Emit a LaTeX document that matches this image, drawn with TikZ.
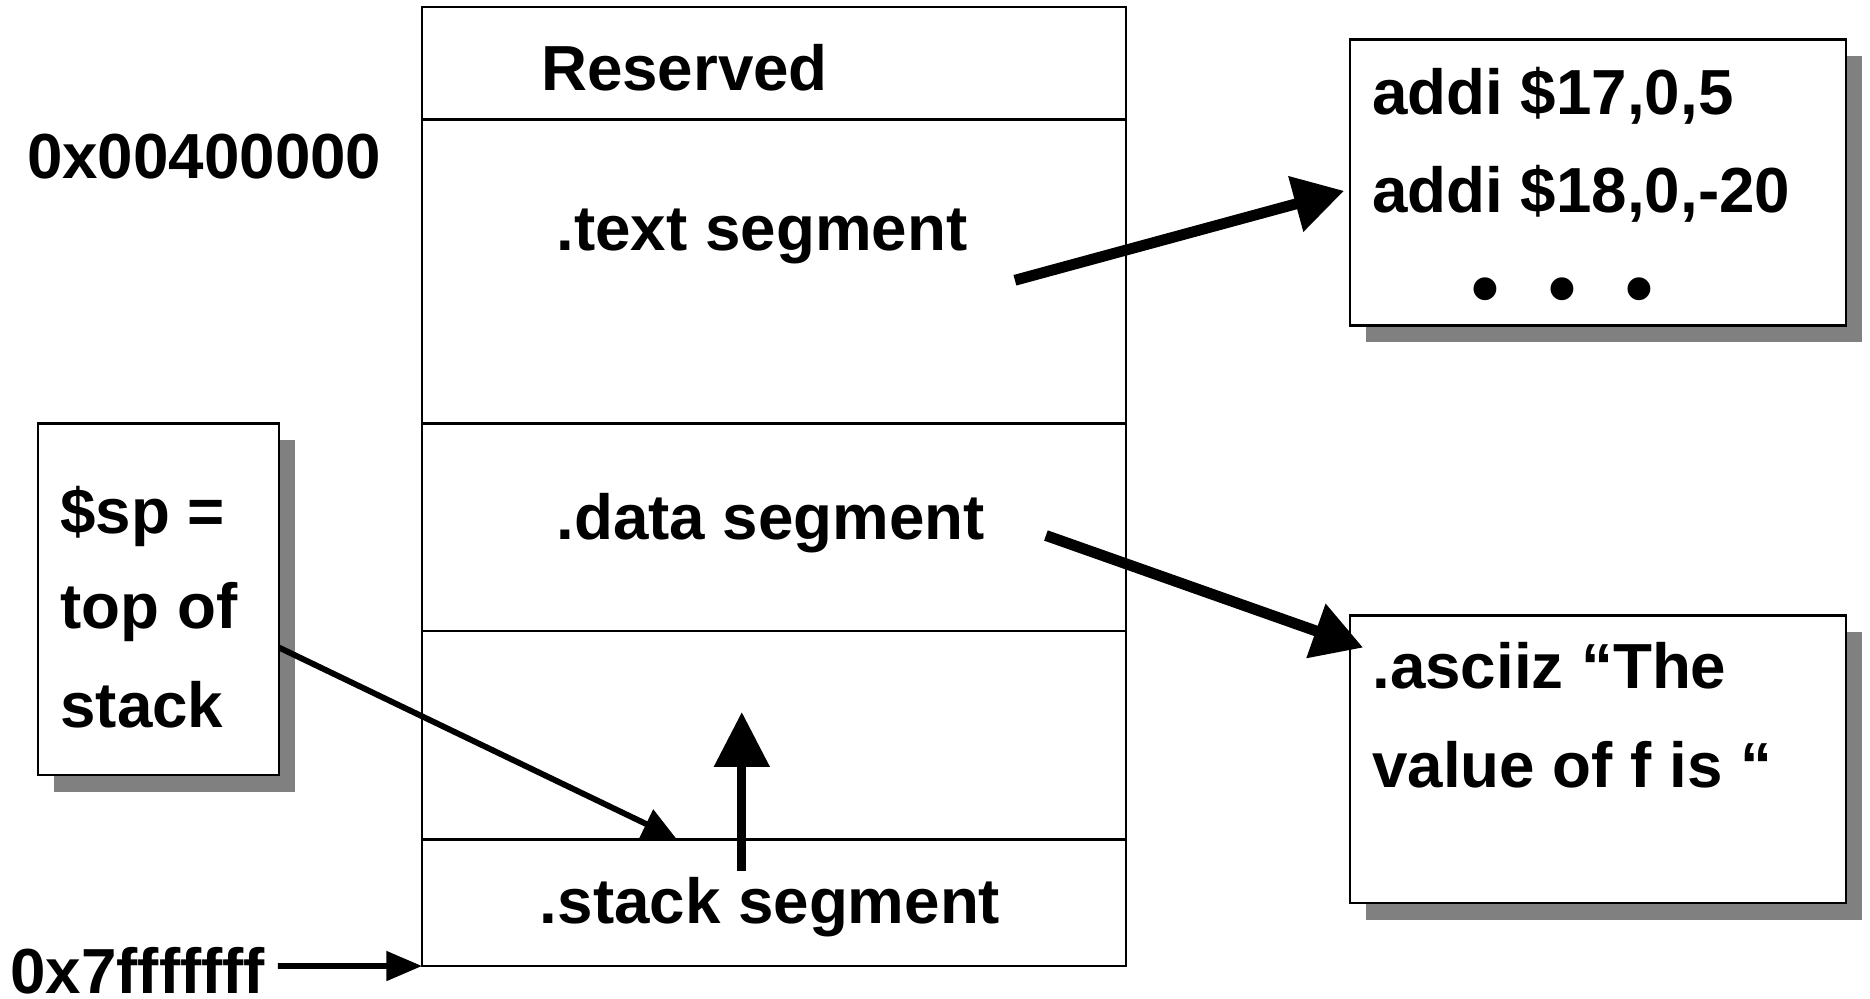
\documentclass[tikz,border=0pt]{standalone}
\usepackage{fontspec}
\setmainfont{Liberation Sans}
\usetikzlibrary{arrows.meta,shadows}
\definecolor{shadowgray}{HTML}{808080}
\begin{document}
\begin{tikzpicture}[x=1cm,y=1cm,
  seg/.style={draw=black, line width=0.6pt, fill=white, anchor=north west, inner sep=0pt, outer sep=0pt, minimum width=5.90cm},
  sbox/.style={draw=black, line width=0.6pt, fill=white, anchor=north west, inner sep=0pt, outer sep=0pt,
    drop shadow={shadow xshift=0.13cm, shadow yshift=-0.14cm, fill=shadowgray, opacity=1}},
  lbl/.style={anchor=base west, inner sep=0pt, font=\bfseries\fontsize{15.2}{18}\selectfont},
  bigarrow/.style={line width=2.6pt, -{Triangle[length=0.42cm, width=0.46cm]}},
  thinarrow/.style={line width=1.4pt, -{Triangle[length=0.28cm, width=0.26cm]}},
  uparrow/.style={line width=2.2pt, -{Triangle[length=0.46cm, width=0.45cm]}},
  addrarrow/.style={line width=1.4pt, -{Triangle[length=0.30cm, width=0.24cm]}}
]
\useasboundingbox (0,0) rectangle (15.68,-8.37);
% memory column
\node[seg, minimum height=0.94cm] (res) at (3.54,-0.06) {};
\node[seg, minimum height=2.55cm] (txt) at (res.south west) {};
\node[seg, minimum height=1.74cm] (dat) at (txt.south west) {};
\node[seg, minimum height=1.75cm] (emp) at (dat.south west) {};
\node[seg, minimum height=1.06cm] (stk) at (emp.south west) {};
% labels in column
\node[lbl] (lres) at (4.53,-0.76) {Reserved};
\node[lbl] (ltxt) at (4.66,-2.10) {.text segment};
\node[lbl] (ldat) at (4.66,-4.52) {.data segment};
\node[lbl] (lstk) at (4.52,-7.74) {.stack segment};
% addresses
\node[lbl] (a1) at (0.22,-1.50) {0x00400000};
\node[lbl] (a2) at (0.08,-8.33) {0x7fffffff};
% side boxes
\node[sbox, minimum width=2.02cm, minimum height=2.95cm] (sp) at (0.32,-3.55) {};
\node[lbl] (sp1) at (0.50,-4.47) {\$sp =};
\node[lbl] (sp2) at (0.50,-5.27) {top of};
\node[lbl] (sp3) at (0.50,-6.10) {stack};
\node[sbox, minimum width=4.16cm, minimum height=2.40cm] (code) at (11.32,-0.33) {};
\node[lbl] (c1) at (11.50,-0.96) {addi \$17,0,5};
\node[lbl] (c2) at (11.50,-1.78) {addi \$18,0,-20};
\node[anchor=center, inner sep=0pt, font=\bfseries\fontsize{19}{19}\selectfont] (c3) at (13.10,-2.49) {•\hspace{0.41cm}•\hspace{0.41cm}•};
\node[sbox, minimum width=4.16cm, minimum height=2.41cm] (str) at (11.32,-5.16) {};
\node[lbl] (s1) at (11.50,-5.77) {.asciiz “The};
\node[lbl] (s2) at (11.50,-6.60) {value of f is “};
% arrows
\coordinate (tstart) at (8.51,-2.35);
\coordinate (tend) at (11.27,-1.60);
\draw[bigarrow] (tstart) -- (tend);
\coordinate (dstart) at (8.77,-4.49);
\coordinate (dend) at (11.43,-5.43);
\draw[bigarrow] (dstart) -- (dend);
\coordinate (spstart) at (2.34,-5.43);
\coordinate (spend) at (5.67,-7.03);
\draw[thinarrow] (spstart) -- (spend);
\coordinate (ustart) at (6.22,-7.30);
\coordinate (uend) at (6.22,-5.97);
\draw[uparrow] (ustart) -- (uend);
\coordinate (astart) at (2.33,-8.10);
\draw[addrarrow] (astart) -- (stk.south west);
\end{tikzpicture}
\end{document}
